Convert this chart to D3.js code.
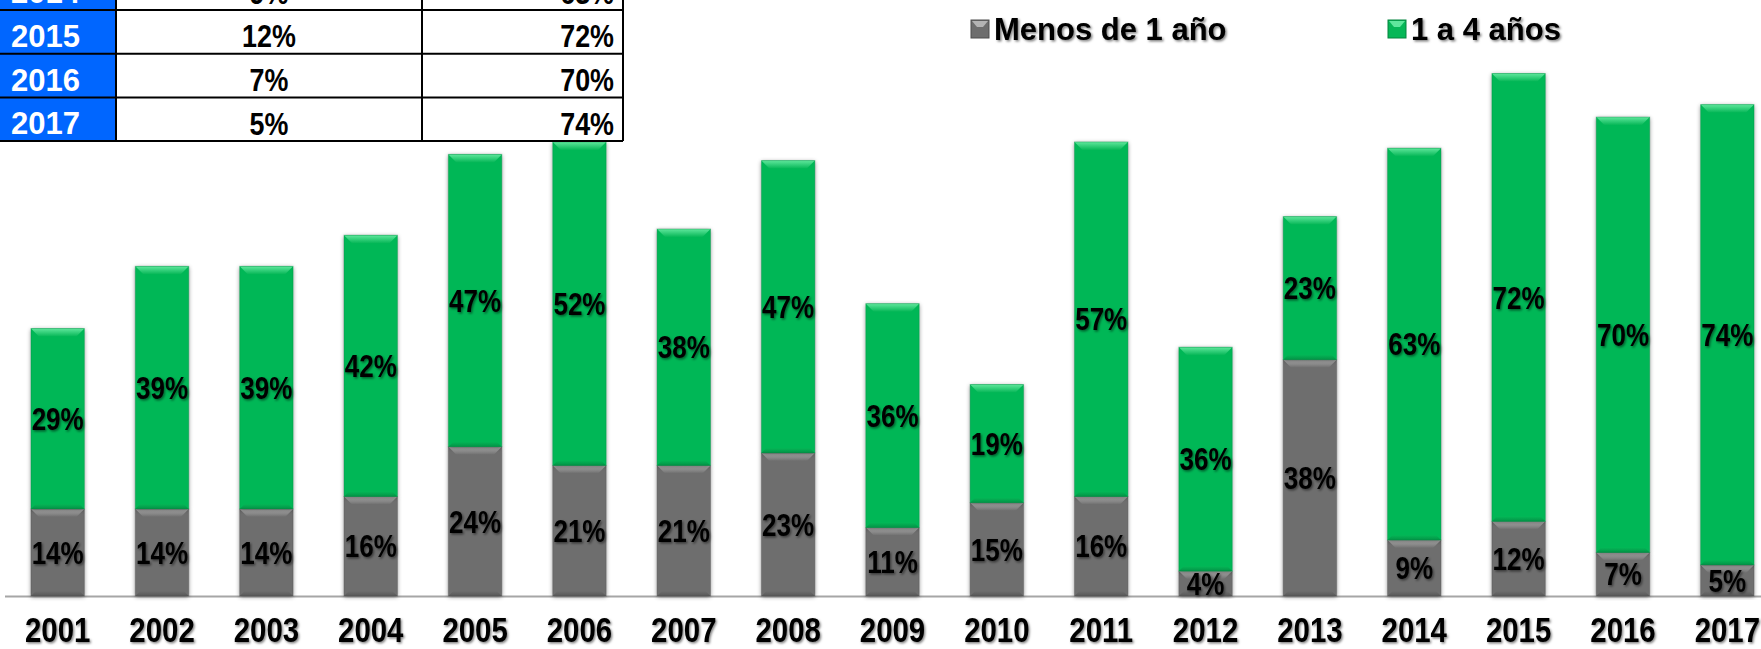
<!DOCTYPE html>
<html>
<head>
<meta charset="utf-8">
<script src="https://cdn.jsdelivr.net/npm/d3@7"></script>
<style>
  html, body { margin: 0; padding: 0; background: #fff; }
  svg { display: block; }
  .num { font-family: "Liberation Sans", Arial, sans-serif; font-weight: bold; }
  .leg { font-family: "Liberation Sans", Arial, sans-serif; font-weight: bold; }
</style>
</head>
<body>
<svg width="1761" height="649"></svg>
<script>
// data
var years = ["2001","2002","2003","2004","2005","2006","2007","2008","2009",
             "2010","2011","2012","2013","2014","2015","2016","2017"];
var menos = [14,14,14,16,24,21,21,23,11,15,16,4,38,9,12,7,5];
var unoCuatro = [29,39,39,42,47,52,38,47,36,19,57,36,23,63,72,70,74];
var seriesNames = ["Menos de 1 año", "1 a 4 años"];
var tableYears = ["2014","2015","2016","2017"];

var colors = {
  menos: { base: "#6e6e6e", light: "#b4b4b4", dark: "#4e4e4e" },
  uno:   { base: "#06b757", light: "#5fe79c", dark: "#04843f" }
};

var svg = d3.select("svg");
var W = 1761, H = 649;
var baseY = 596;
var squeeze = 0.84;   // narrow look of the original gothic digits

var data = years.map(function(y, i) {
  return { year: y, menos: menos[i], uno: unoCuatro[i] };
});

var x = d3.scaleBand().domain(years).range([5.5, 1779.5]).paddingInner(0.488).paddingOuter(0.244);
var y = d3.scaleLinear().domain([0, 100]).range([baseY, baseY - 622]);

var stack = d3.stack().keys(["menos", "uno"]);
var layers = stack(data);

var defs = svg.append("defs");
var sh = defs.append("filter").attr("id", "barShadow")
  .attr("x", "-30%").attr("y", "-10%").attr("width", "160%").attr("height", "120%");
sh.append("feDropShadow").attr("dx", 0).attr("dy", 1).attr("stdDeviation", 2.2)
  .attr("flood-color", "#000").attr("flood-opacity", 0.45);
var tsh = defs.append("filter").attr("id", "textShadow")
  .attr("x", "-20%").attr("y", "-20%").attr("width", "140%").attr("height", "140%");
tsh.append("feDropShadow").attr("dx", 1.5).attr("dy", 1.5).attr("stdDeviation", 1.3)
  .attr("flood-color", "#000").attr("flood-opacity", 0.5);

["menos", "uno"].forEach(function(k) {
  var gTop = defs.append("linearGradient").attr("id", "top-" + k)
    .attr("x1", 0).attr("y1", 0).attr("x2", 0).attr("y2", 1);
  gTop.append("stop").attr("offset", "0%").attr("stop-color", colors[k].light);
  gTop.append("stop").attr("offset", "100%").attr("stop-color", colors[k].base);
  var gBot = defs.append("linearGradient").attr("id", "bot-" + k)
    .attr("x1", 0).attr("y1", 0).attr("x2", 0).attr("y2", 1);
  gBot.append("stop").attr("offset", "0%").attr("stop-color", colors[k].base);
  gBot.append("stop").attr("offset", "100%").attr("stop-color", colors[k].dark);
});

// text squeezed horizontally around its anchor point
function narrowText(sel, fx, fy, size) {
  return sel.append("g")
    .attr("transform", function(d, i) {
      return "translate(" + fx(d, i) + "," + fy(d, i) + ") scale(" + squeeze + ",1)";
    })
    .append("text")
    .attr("class", "num")
    .attr("font-size", size);
}

// axis line
svg.append("line")
  .attr("x1", 5).attr("x2", W).attr("y1", baseY + 0.5).attr("y2", baseY + 0.5)
  .attr("stroke", "#a6a6a6").attr("stroke-width", 2);

var bars = svg.append("g");
layers.forEach(function(layer) {
  var k = layer.key;
  var seg = bars.selectAll(".seg-" + k)
    .data(layer)
    .enter().append("g")
    .attr("class", "seg-" + k);

  seg.append("rect")
    .attr("x", function(d) { return x(d.data.year); })
    .attr("y", function(d) { return y(d[1]); })
    .attr("width", x.bandwidth())
    .attr("height", function(d) { return y(d[0]) - y(d[1]); })
    .attr("fill", colors[k].base)
    .attr("filter", "url(#barShadow)");

  // top bevel
  seg.append("polygon")
    .attr("points", function(d) {
      var x0 = x(d.data.year), w = x.bandwidth(), t = y(d[1]), b = 8;
      return [[x0, t], [x0 + w, t], [x0 + w - b, t + b], [x0 + b, t + b]].join(" ");
    })
    .attr("fill", "url(#top-" + k + ")");

  // bottom bevel
  seg.append("polygon")
    .attr("points", function(d) {
      var x0 = x(d.data.year), w = x.bandwidth(), bt = y(d[0]), b = 5;
      return [[x0 + b, bt - b], [x0 + w - b, bt - b], [x0 + w, bt], [x0, bt]].join(" ");
    })
    .attr("fill", "url(#bot-" + k + ")")
    .attr("opacity", 0.7);

  // side edges
  seg.append("rect")
    .attr("x", function(d) { return x(d.data.year); })
    .attr("y", function(d) { return y(d[1]); })
    .attr("width", x.bandwidth())
    .attr("height", function(d) { return y(d[0]) - y(d[1]); })
    .attr("fill", "none")
    .attr("stroke", colors[k].dark)
    .attr("stroke-opacity", 0.35)
    .attr("stroke-width", 1);

  narrowText(seg,
      function(d) { return x(d.data.year) + x.bandwidth() / 2; },
      function(d) { return (y(d[0]) + y(d[1])) / 2; }, 31)
    .attr("dy", "0.36em")
    .attr("text-anchor", "middle")
    .attr("fill", "#000")
    .attr("filter", "url(#textShadow)")
    .text(function(d) { return d.data[k] + "%"; });
});

// x axis labels
var xl = svg.append("g").selectAll("g")
  .data(years)
  .enter().append("g");
narrowText(xl, function(d) { return x(d) + x.bandwidth() / 2; }, function() { return 642; }, 35)
  .attr("text-anchor", "middle")
  .attr("fill", "#000")
  .attr("filter", "url(#textShadow)")
  .text(function(d) { return d; });

// legend
var legX = [971, 1388];
var leg = svg.append("g").selectAll("g")
  .data(seriesNames)
  .enter().append("g")
  .attr("transform", function(d, i) { return "translate(" + legX[i] + ",20)"; });
leg.append("rect")
  .attr("width", 18).attr("height", 18)
  .attr("fill", function(d, i) { return i === 0 ? colors.menos.base : colors.uno.base; })
  .attr("stroke", function(d, i) { return i === 0 ? colors.menos.dark : colors.uno.dark; })
  .attr("stroke-width", 1);
leg.append("polygon")
  .attr("points", "1,1 17,1 12,7 6,7")
  .attr("fill", function(d, i) { return i === 0 ? colors.menos.light : colors.uno.light; });
leg.append("text")
  .attr("class", "leg")
  .attr("x", 23)
  .attr("y", 20)
  .attr("font-size", 31)
  .attr("fill", "#000")
  .attr("filter", "url(#textShadow)")
  .text(function(d) { return d; });

// data table at top-left (rows above 2014 are off the picture)
var colX = [0, 116, 422, 623];
var rowH = 43.7, tableTop = 10 - rowH;
var tbl = svg.append("g");
var rows = tbl.selectAll("g")
  .data(tableYears)
  .enter().append("g")
  .attr("transform", function(d, i) { return "translate(0," + (tableTop + i * rowH) + ")"; });
rows.append("rect")
  .attr("x", colX[0]).attr("width", colX[1] - colX[0]).attr("height", rowH)
  .attr("fill", "#0066ff");
rows.append("rect")
  .attr("x", colX[1]).attr("width", colX[3] - colX[1]).attr("height", rowH)
  .attr("fill", "#fff");
rows.append("text")
  .attr("class", "leg")
  .attr("x", 11).attr("y", rowH / 2 + 4).attr("dy", "0.36em")
  .attr("font-size", 31).attr("fill", "#fff")
  .text(function(d) { return d; });
narrowText(rows, function() { return (colX[1] + colX[2]) / 2; }, function() { return rowH / 2 + 4; }, 32)
  .attr("dy", "0.36em")
  .attr("text-anchor", "middle")
  .attr("fill", "#000")
  .text(function(d) { return menos[years.indexOf(d)] + "%"; });
narrowText(rows, function() { return colX[3] - 9; }, function() { return rowH / 2 + 4; }, 32)
  .attr("dy", "0.36em")
  .attr("text-anchor", "end")
  .attr("fill", "#000")
  .text(function(d) { return unoCuatro[years.indexOf(d)] + "%"; });
// grid lines
tableYears.forEach(function(d, i) {
  var yb = tableTop + (i + 1) * rowH;
  tbl.append("line").attr("x1", 0).attr("x2", colX[3]).attr("y1", yb).attr("y2", yb)
    .attr("stroke", "#000").attr("stroke-width", 2);
});
[colX[1], colX[2], colX[3]].forEach(function(cx) {
  tbl.append("line").attr("x1", cx).attr("x2", cx)
    .attr("y1", tableTop).attr("y2", tableTop + tableYears.length * rowH)
    .attr("stroke", "#000").attr("stroke-width", 2);
});
</script>
</body>
</html>
